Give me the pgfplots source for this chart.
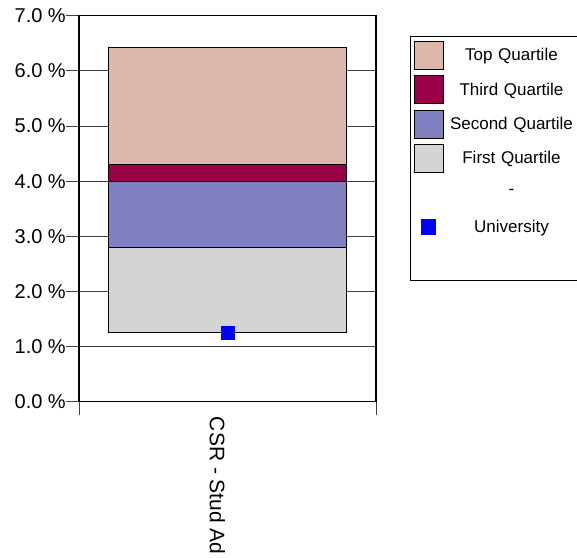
\documentclass[border=0pt]{standalone}
\usepackage{fontspec}
\setmainfont{Liberation Sans}
\usepackage{pgfplots}
\pgfplotsset{compat=1.18}
\usepackage{pgfplotstable}

\definecolor{topq}{RGB}{221,184,170}
\definecolor{thirdq}{RGB}{153,0,69}
\definecolor{secondq}{RGB}{128,128,192}
\definecolor{firstq}{RGB}{212,212,212}
\definecolor{univ}{RGB}{0,0,255}
\definecolor{gridc}{RGB}{64,64,64}

% quartile boundaries and university value, in percent
\pgfplotstableread{
x   q0   q1   q2   q3   q4   uni
0.5 1.25 2.79 4.00 4.31 6.42 1.25
}\quartiles

\pgfplotsset{
  swatch/.style={legend image code/.code={%
    \draw[fill=#1, draw=black, line width=0.8pt] (0pt,-14pt) rectangle (29pt,14pt);}},
}

\begin{document}
\begin{tikzpicture}
\useasboundingbox (0,0) rectangle (577pt,557pt);
\begin{axis}[
  at={(79pt,155.3pt)}, anchor=south west,
  scale only axis, width=297pt, height=386pt,
  xmin=0, xmax=1, ymin=0, ymax=7,
  ybar stacked, bar width=238pt,
  xtick={0,1}, xticklabels={},
  ytick={0,1,2,3,4,5,6,7},
  yticklabels={0.0 \%,1.0 \%,2.0 \%,3.0 \%,4.0 \%,5.0 \%,6.0 \%,7.0 \%},
  xtick pos=lower, ytick pos=left,
  tick align=outside, major tick length=13pt,
  tick style={gridc, line width=0.9pt},
  ymajorgrids, grid style={gridc, line width=0.9pt},
  axis line style={black, line width=1.2pt},
  yticklabel style={font=\fontsize{20}{20}\selectfont, inner sep=0pt},
  extra x ticks={0.5},
  extra x tick labels={CSR - Stud Ad},
  extra x tick style={major tick length=0pt,
    xticklabel style={font=\fontsize{21}{21}\selectfont, inner sep=0pt,
      xshift=-10pt, yshift=-15pt, rotate=-90, anchor=west}},
  legend style={at={(1.1145,0.948)}, anchor=north west, draw=black,
    line width=1.3pt, inner xsep=3pt, inner ysep=2pt,
    column sep=3pt, row sep=0pt,
    font=\fontsize{17}{17}\selectfont,
    nodes={inner sep=0pt, text width=130pt, align=center, minimum height=34.3pt},
    cells={anchor=center}},
  legend entries={Top Quartile, Third Quartile, Second Quartile, First Quartile, -, University, \mbox{}},
]
\addlegendimage{swatch=topq}
\addlegendimage{swatch=thirdq}
\addlegendimage{swatch=secondq}
\addlegendimage{swatch=firstq}
\addlegendimage{empty legend}
\addlegendimage{legend image code/.code={\fill[univ] (7.5pt,-7pt) rectangle (21.5pt,7pt);}}
\addlegendimage{empty legend}

% invisible base up to the first quartile's lower bound
\addplot[draw=none, fill=none] table[x=x, y=q0] {\quartiles};
\addplot[fill=firstq, draw=black, line width=0.9pt] table[x=x, y expr=\thisrow{q1}-\thisrow{q0}] {\quartiles};
\addplot[fill=secondq, draw=black, line width=0.9pt] table[x=x, y expr=\thisrow{q2}-\thisrow{q1}] {\quartiles};
\addplot[fill=thirdq, draw=black, line width=0.9pt] table[x=x, y expr=\thisrow{q3}-\thisrow{q2}] {\quartiles};
\addplot[fill=topq, draw=black, line width=0.9pt] table[x=x, y expr=\thisrow{q4}-\thisrow{q3}] {\quartiles};

% university value
\addplot[stack plots=false, sharp plot, only marks, mark=square*, mark size=6.7pt,
  mark options={fill=univ, draw=univ, line width=0.3pt, solid}] table[x=x, y=uni] {\quartiles};
\end{axis}
\end{tikzpicture}
\end{document}
